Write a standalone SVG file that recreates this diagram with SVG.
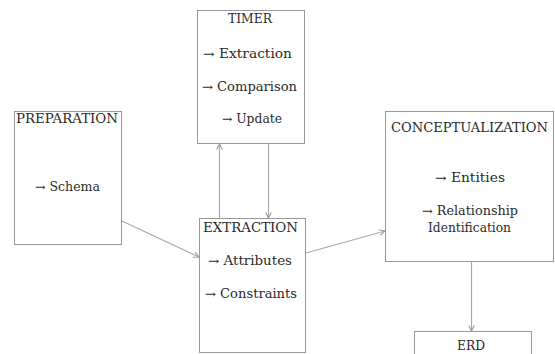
<svg xmlns="http://www.w3.org/2000/svg" width="555" height="354" viewBox="0 0 555 354">
<style>
.box{fill:#fff;stroke:#999;stroke-width:1}
.t{font-family:"DejaVu Serif","Liberation Serif",serif;font-size:12px;fill:#2a2a2a;text-anchor:middle}
.c{fill:none;stroke:#aaa;stroke-width:1.2;marker-end:url(#ah)}
</style>
<defs>
<marker id="ah" viewBox="0 0 10 10" refX="9" refY="5" markerWidth="7" markerHeight="7" orient="auto" markerUnits="userSpaceOnUse">
<path d="M1,1 L9,5 L1,9" fill="none" stroke="#999" stroke-width="1.5"/>
</marker>
</defs>
<rect width="555" height="354" fill="#fff"/>
<g id="timer">
<rect class="box" x="197.5" y="10.5" width="107" height="133"/>
<text class="t" x="250" y="23" textLength="44" lengthAdjust="spacingAndGlyphs">TIMER</text>
<text class="t" x="247.5" y="58" textLength="89" lengthAdjust="spacingAndGlyphs">→ Extraction</text>
<text class="t" x="249.5" y="91" textLength="95" lengthAdjust="spacingAndGlyphs">→ Comparison</text>
<text class="t" x="252" y="123" textLength="60" lengthAdjust="spacingAndGlyphs">→ Update</text>
</g>
<g id="preparation">
<rect class="box" x="14.5" y="111.5" width="107" height="133"/>
<text class="t" x="67" y="123" textLength="102" lengthAdjust="spacingAndGlyphs">PREPARATION</text>
<text class="t" x="67.5" y="191" textLength="65" lengthAdjust="spacingAndGlyphs">→ Schema</text>
</g>
<g id="extraction">
<rect class="box" x="199.5" y="218.5" width="106" height="134"/>
<text class="t" x="250.5" y="232" textLength="95" lengthAdjust="spacingAndGlyphs">EXTRACTION</text>
<text class="t" x="250" y="265" textLength="84" lengthAdjust="spacingAndGlyphs">→ Attributes</text>
<text class="t" x="251" y="298" textLength="92" lengthAdjust="spacingAndGlyphs">→ Constraints</text>
</g>
<g id="conceptualization">
<rect class="box" x="385.5" y="111.5" width="168" height="150"/>
<text class="t" x="469.5" y="132" textLength="157" lengthAdjust="spacingAndGlyphs">CONCEPTUALIZATION</text>
<text class="t" x="470" y="182" textLength="70" lengthAdjust="spacingAndGlyphs">→ Entities</text>
<text class="t" x="470" y="215" textLength="96" lengthAdjust="spacingAndGlyphs">→ Relationship</text>
<text class="t" x="469.5" y="232" textLength="83" lengthAdjust="spacingAndGlyphs">Identification</text>
</g>
<g id="erd">
<rect class="box" x="414.5" y="331.5" width="117" height="40"/>
<text class="t" x="471" y="350" textLength="28" lengthAdjust="spacingAndGlyphs">ERD</text>
</g>
<g id="connectors">
<line class="c" x1="122" y1="221" x2="199" y2="257"/>
<line class="c" x1="219.5" y1="218" x2="219.5" y2="144"/>
<line class="c" x1="268.5" y1="144" x2="268.5" y2="218"/>
<line class="c" x1="306" y1="253" x2="385" y2="231"/>
<line class="c" x1="471.5" y1="262" x2="471.5" y2="331"/>
</g>
</svg>
